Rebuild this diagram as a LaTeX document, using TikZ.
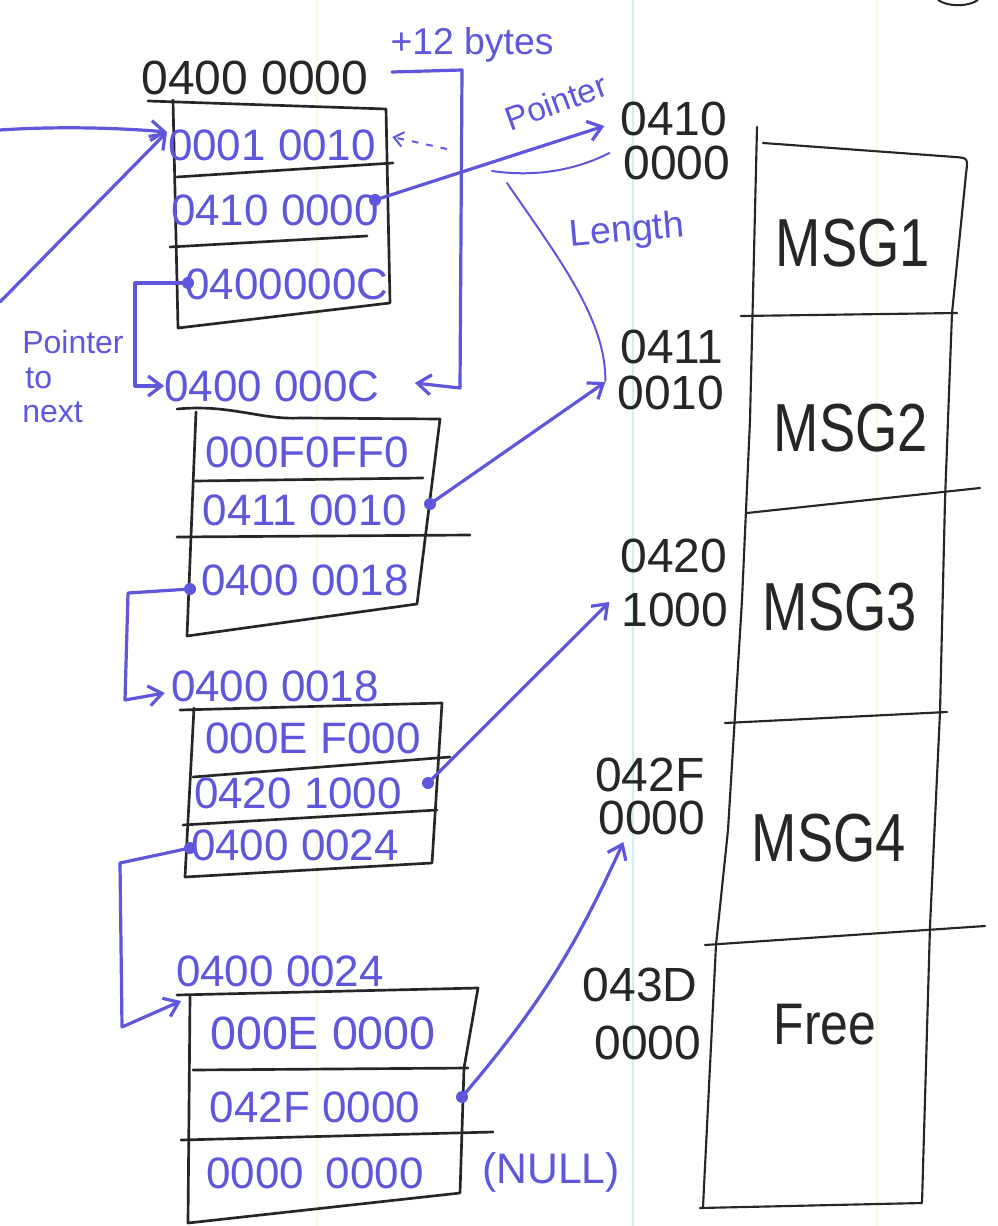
\documentclass[tikz,border=0pt]{standalone}
\usepackage{fontspec}
\setmainfont{Liberation Sans}
\usetikzlibrary{arrows.meta}
\definecolor{ink}{RGB}{96,86,220}
\definecolor{pen}{RGB}{38,38,38}
\definecolor{scancyan}{RGB}{200,242,242}
\definecolor{scanyel}{RGB}{250,250,225}
\begin{document}
\begin{tikzpicture}[x=0.75pt,y=-0.75pt,
  boxline/.style={pen, line width=2pt, line join=round, line cap=round},
  colline/.style={pen, line width=1.6pt, line join=round, line cap=round},
  bluetxt/.style={text=ink, font=\fontsize{33}{36}\selectfont, inner sep=0pt},
  blacktxt/.style={text=pen, font=\fontsize{36}{40}\selectfont, inner sep=0pt},
  msgtxt/.style={text=pen, font=\fontsize{51}{56}\selectfont, inner sep=0pt},
  note/.style={text=ink, font=\fontsize{28}{30}\selectfont, inner sep=0pt},
  ptr/.style={ink, line width=2.4pt, line cap=round, line join=round,
    -{Straight Barb[length=10pt,width=15pt]}},
  thinblue/.style={ink, line width=1.5pt, line cap=round},
  dashptr/.style={ink, line width=1.5pt, dash pattern=on 5pt off 6pt,
    -{Straight Barb[length=7pt,width=11pt]}},
  dotc/.style={circle, fill=ink, inner sep=0pt, minimum size=9pt}
]
\useasboundingbox (0,0) rectangle (997,1226);
\fill[white] (0,0) rectangle (997,1226);
% faint scan lines
\draw[scancyan, line width=1.5pt] (633,0) -- (633,1226);
\draw[scanyel, line width=1.5pt] (317,0) -- (317,1226);
\draw[scanyel, line width=1.5pt] (877,0) -- (877,1226);
% corner mark
\draw[pen, line width=1.5pt] (938,0) .. controls (948,7) and (968,7) .. (978,0);

% ---------- block 1 ----------
\node[blacktxt] (a1) at (255,78) {0400 0000};
\draw[boxline] (148,101) -- (386,109) -- (390,303) -- (178,328) -- (173,100);
\draw[boxline] (177,177) -- (393,163);
\draw[boxline] (170,247) -- (367,236);
\node[bluetxt] (r11) at (272,145) {0001 0010};
\node[bluetxt] (r12) at (275,210) {0410 0000};
\node[bluetxt] (r13) at (287,284) {0400000C};
\node[dotc] (d1p) at (375,200) {};
\node[dotc] (d1n) at (188,283) {};

% ---------- block 2 ----------
\node[bluetxt] (a2) at (272,386) {0400 000C};
\draw[boxline] (177,409) .. controls (230,404) and (260,420) .. (300,418) -- (440,419) -- (417,604) -- (187,636) -- (196,412);
\draw[boxline] (195,481) -- (423,478);
\draw[boxline] (177,537) -- (470,535);
\node[bluetxt] (r21) at (307,452) {000F0FF0};
\node[bluetxt] (r22) at (305,510) {0411 0010};
\node[bluetxt] (r23) at (305,580) {0400 0018};
\node[dotc] (d2p) at (430,504) {};
\node[dotc] (d2n) at (190,589) {};

% ---------- block 3 ----------
\node[bluetxt] (a3) at (275,686) {0400 0018};
\draw[boxline] (180,710) -- (442,703) -- (432,863) -- (185,877) -- (194,708);
\draw[boxline] (193,777) -- (450,757);
\draw[boxline] (183,825) -- (437,810);
\node[bluetxt] (r31) at (313,738) {000E F000};
\node[bluetxt] (r32) at (298,793) {0420 1000};
\node[bluetxt] (r33) at (295,845) {0400 0024};
\node[dotc] (d3p) at (428,783) {};
\node[dotc] (d3n) at (190,848) {};

% ---------- block 4 ----------
\node[bluetxt] (a4) at (280,971) {0400 0024};
\draw[boxline] (177,995) -- (478,988) -- (464,1068) -- (460,1193) -- (188,1223) -- (190,997);
\draw[boxline] (193,1070) -- (468,1068);
\draw[boxline] (181,1140) -- (493,1132);
\node[bluetxt, font=\fontsize{35}{38}\selectfont] (r41) at (323,1033) {000E 0000};
\node[bluetxt] (r42) at (315,1107) {042F 0000};
\node[bluetxt] (r43) at (315,1173) {0000\hspace{0.5em}0000};
\node[dotc] (d4p) at (462,1097) {};
\node[note, font=\fontsize{32}{34}\selectfont] (null) at (551,1172) {(NULL)};
\coordinate (b4tl) at (181,1001);

% ---------- memory column ----------
\draw[colline] (757,127) -- (750,420) -- (742,600) -- (728,830) -- (716,945) -- (703,1207);
\draw[colline] (763,143) -- (955,157) .. controls (968,158) .. (966,174) -- (952,313) -- (945,500) -- (940,712) -- (930,926) -- (922,1203) -- (700,1208);
\draw[colline] (741,316) -- (957,313);
\draw[colline] (747,513) -- (980,488);
\draw[colline] (725,723) -- (947,712);
\draw[colline] (705,945) -- (985,926);
\node[msgtxt] (msg1) at (853,243) {\scalebox{0.8}[1]{MSG1}};
\node[msgtxt] (msg2) at (851,428) {\scalebox{0.8}[1]{MSG2}};
\node[msgtxt] (msg3) at (840,607) {\scalebox{0.8}[1]{MSG3}};
\node[msgtxt] (msg4) at (829,838) {\scalebox{0.8}[1]{MSG4}};
\node[msgtxt, font=\fontsize{44}{48}\selectfont] (free) at (825,1025) {\scalebox{0.85}[1]{Free}};

% addresses
\node[blacktxt] (m1a) at (674,119) {0410};
\node[blacktxt] (m1b) at (677,163) {0000};
\node[blacktxt] (m2a) at (672,347) {0411};
\node[blacktxt] (m2b) at (671,393) {0010};
\node[blacktxt] (m3a) at (674,556) {0420};
\node[blacktxt] (m3b) at (675,610) {1000};
\node[blacktxt] (m4a) at (650,775) {042F};
\node[blacktxt] (m4b) at (652,818) {0000};
\node[blacktxt] (m5a) at (640,985) {043D};
\node[blacktxt] (m5b) at (648,1043) {0000};

% ---------- pointers to messages ----------
\draw[ptr] (d1p.center) -- ([shift={(-16,7)}]m1a.west);
\draw[ptr] (d2p.center) -- ([shift={(-12,-11)}]m2b.west);
\draw[ptr] (d3p.center) -- ([shift={(-12,-8)}]m3b.west);
\draw[ptr] (d4p.center) to[bend right=8] ([shift={(25,24)}]m4b.west);

% ---------- next pointers ----------
\draw[ptr] (d1n.center) -- ++(-53,0) |- (a2.west);
\draw[ptr] (d2n.center) -- ++(-62,4) -- ++(-3,107) -- ([shift={(-6,7)}]a3.west);
\draw[ptr] (d3n.center) -- ++(-70,15) -- ++(2,164) -- (b4tl);

% ---------- incoming ----------
\coordinate (in1) at (0,130);
\coordinate (in2) at (0,302);
\coordinate (hd) at (167,132);
\draw[ptr] (in1) .. controls (60,126) and (120,128) .. (hd);
\draw[ptr] (in2) -- (hd);

% ---------- +12 bytes ----------
\node[note] (plus) at (472,45) {+12 bytes};
\coordinate (bstart) at (392,72);
\draw[ptr] (bstart) -- (462,70) -- (460,388) -- ([shift={(35,-3)}]a2.east);

% ---------- Pointer / Length annotations ----------
\node[note, font=\fontsize{25}{27}\selectfont, rotate=20] (ptrlbl) at (556,102) {Pointer};
\node[note, rotate=5] (lenlbl) at (627,232) {Length};
\coordinate (lenA) at (492,171);
\coordinate (lenB) at (507,183);
\draw[thinblue] (lenA) .. controls (540,178) and (580,168) .. ([shift={(-14,-10)}]m1b.west);
\draw[thinblue] (lenB) .. controls (560,260) and (606,320) .. ([shift={(-12,-12)}]m2b.west);
\coordinate (dashstart) at (447,149);
\draw[dashptr] (dashstart) -- ([shift={(16,-8)}]r11.east);

\node[text=ink, font=\fontsize{24}{26}\selectfont, inner sep=0pt, align=left, anchor=north west] (ptn) at (22,330) {Pointer\\\hspace{0.1em}to\\next};
\end{tikzpicture}
\end{document}
